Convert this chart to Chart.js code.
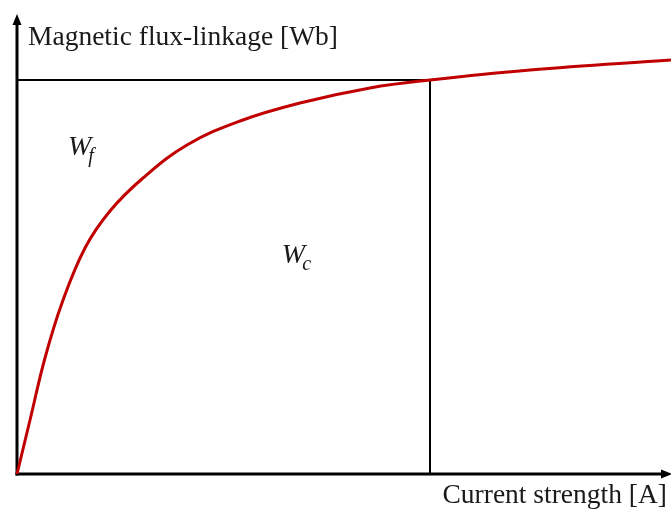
<!DOCTYPE html>
<html>
<head>
<meta charset="utf-8">
<script src="https://cdn.jsdelivr.net/npm/chart.js@4/dist/chart.umd.min.js"></script>
<style>
  html, body { margin: 0; padding: 0; background: #ffffff; }
  #wrap { width: 671px; height: 511px; }
</style>
</head>
<body>
<div id="wrap"><canvas id="c" width="671" height="511"></canvas></div>
<script>
// Magnetisation curve (normalised units, 0..100 on each axis)
const currentA = [0, 1.99, 4.28, 6.88, 10.40, 14.22, 19.27, 25.99, 34.10, 43.27, 53.98, 63.15, 78.44, 100];
const fluxWb   = [0, 11.76, 25.27, 37.25, 49.24, 57.30, 64.49, 71.68, 76.91, 80.83, 84.10, 85.84, 88.02, 90.20];
// Operating point (corner of the co-energy rectangle)
const opCurrent = [63.15];
const opFlux = [85.84];
// Axis titles and region labels
const yTitle = "Magnetic flux-linkage [Wb]";
const xTitle = "Current strength [A]";
const regionLabels = [
  { main: "W", sub: "f", x: 7.8, y: 69.5 },
  { main: "W", sub: "c", x: 40.5, y: 46.0 }
];

const curve = currentA.map((x, i) => ({ x: x, y: fluxWb[i] }));
const hLine = [{ x: 0, y: opFlux[0] }, { x: opCurrent[0], y: opFlux[0] }];
const vLine = [{ x: opCurrent[0], y: 0 }, { x: opCurrent[0], y: opFlux[0] }];

const decor = {
  id: 'decor',
  beforeDatasetsDraw(chart) {
    const ctx = chart.ctx;
    const a = chart.chartArea;
    ctx.save();
    ctx.strokeStyle = '#000';
    ctx.fillStyle = '#000';
    ctx.lineWidth = 3;
    // y axis
    ctx.beginPath();
    ctx.moveTo(a.left, a.bottom + 1.5);
    ctx.lineTo(a.left, a.top + 8);
    ctx.stroke();
    ctx.beginPath();
    ctx.moveTo(a.left, a.top - 1);
    ctx.lineTo(a.left - 4.5, a.top + 10);
    ctx.lineTo(a.left + 4.5, a.top + 10);
    ctx.closePath();
    ctx.fill();
    // x axis
    ctx.beginPath();
    ctx.moveTo(a.left - 1.5, a.bottom);
    ctx.lineTo(a.right - 8, a.bottom);
    ctx.stroke();
    ctx.beginPath();
    ctx.moveTo(a.right + 1, a.bottom);
    ctx.lineTo(a.right - 10, a.bottom - 4.5);
    ctx.lineTo(a.right - 10, a.bottom + 4.5);
    ctx.closePath();
    ctx.fill();
    ctx.restore();
  },
  afterDatasetsDraw(chart) {
    const ctx = chart.ctx;
    const a = chart.chartArea;
    const xs = chart.scales.x, ys = chart.scales.y;
    ctx.save();
    ctx.fillStyle = '#1a1a1a';
    ctx.textBaseline = 'alphabetic';
    ctx.font = '27.5px "Liberation Serif", "Times New Roman", serif';
    ctx.textAlign = 'left';
    ctx.fillText(yTitle, a.left + 11, a.top + 30);
    ctx.textAlign = 'right';
    ctx.fillText(xTitle, a.right - 4, a.bottom + 29);
    ctx.textAlign = 'left';
    regionLabels.forEach(l => {
      const px = xs.getPixelForValue(l.x);
      const py = ys.getPixelForValue(l.y);
      ctx.font = 'italic 28px "Liberation Serif", "Times New Roman", serif';
      ctx.fillText(l.main, px, py);
      const w = ctx.measureText(l.main).width;
      ctx.font = 'italic 20px "Liberation Serif", "Times New Roman", serif';
      ctx.fillText(l.sub, px + w - 3, py + 7);
    });
    ctx.restore();
  }
};

new Chart(document.getElementById('c'), {
  type: 'line',
  data: {
    datasets: [
      { data: curve, borderColor: '#C00000', borderWidth: 3, pointRadius: 0, tension: 0.4, order: 0, clip: false },
      { data: hLine, borderColor: '#000', borderWidth: 2, pointRadius: 0, order: 1 },
      { data: vLine, borderColor: '#000', borderWidth: 2, pointRadius: 0, order: 1 }
    ]
  },
  options: {
    responsive: false,
    animation: false,
    layout: { padding: { left: 17, right: 0, top: 15, bottom: 37 } },
    plugins: { legend: { display: false }, tooltip: { enabled: false } },
    scales: {
      x: { type: 'linear', min: 0, max: 100, display: false },
      y: { type: 'linear', min: 0, max: 100, display: false }
    }
  },
  plugins: [decor]
});
</script>
</body>
</html>
